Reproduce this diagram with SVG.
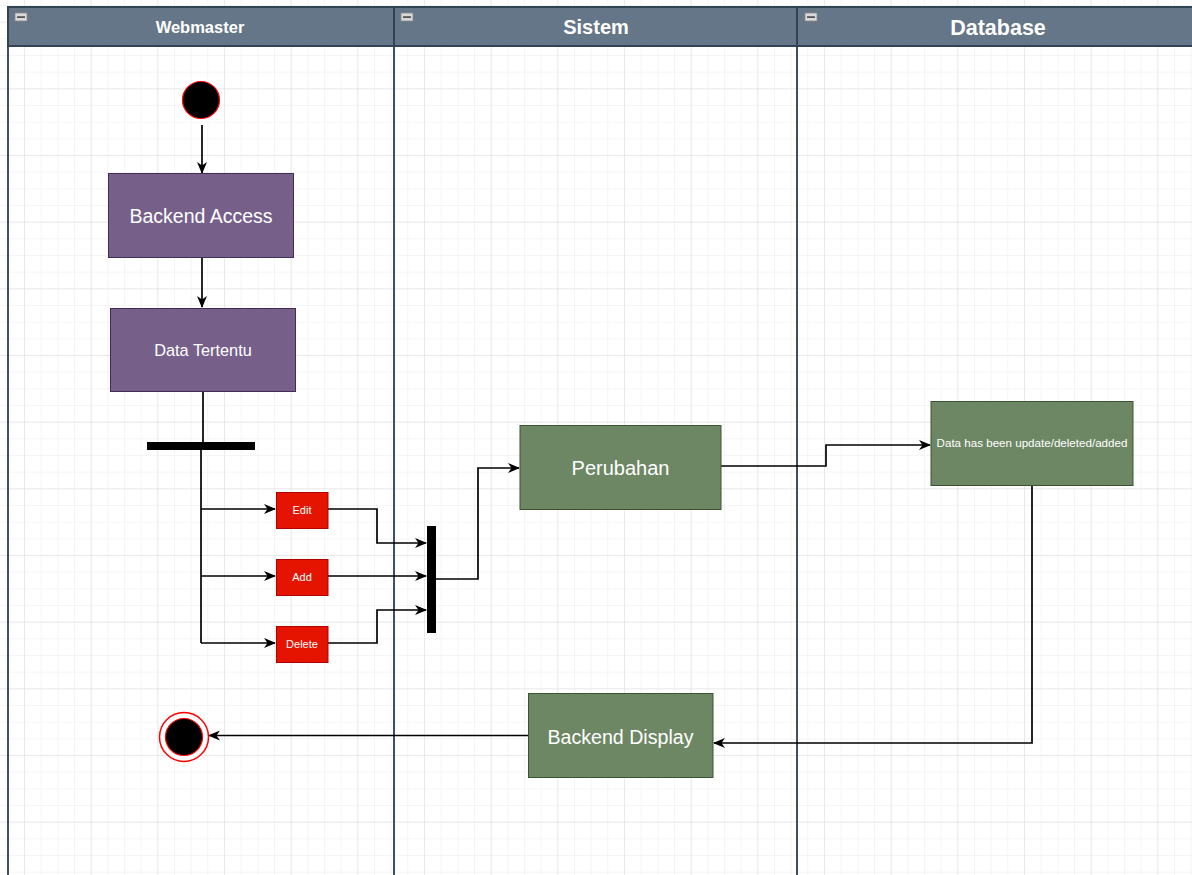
<svg xmlns="http://www.w3.org/2000/svg" width="1192" height="875" viewBox="0 0 1192 875">
<defs>
<pattern id="minor" x="24" y="21.67" width="16.667" height="16.667" patternUnits="userSpaceOnUse">
<path d="M0 0H16.667M0 0V16.667" fill="none" stroke="#ececec" stroke-width="1"/>
</pattern>
<pattern id="major" x="24" y="21.67" width="66.667" height="66.667" patternUnits="userSpaceOnUse">
<path d="M0 0H66.667M0 0V66.667" fill="none" stroke="#dedede" stroke-width="1"/>
</pattern>
<marker id="arr" viewBox="0 0 12 10" refX="11" refY="5" markerWidth="12" markerHeight="10" markerUnits="userSpaceOnUse" orient="auto">
<path d="M0 0L12 5L0 10L3.5 5Z" fill="#000"/>
</marker>
<g id="icon">
<rect x="0" y="0" width="12" height="8" fill="#d9d9d9" stroke="#8a8a8a" stroke-width="0.8"/>
<rect x="2" y="3.3" width="8" height="1.6" fill="#444"/>
</g>
</defs>
<style>
.hdr{fill:#647687;stroke:#314354;stroke-width:2}
.lane{fill:none;stroke:#3d4f62;stroke-width:2}
.ht{fill:#fff;font-family:"Liberation Sans",Arial,sans-serif;font-weight:bold;text-anchor:middle}
.purple{fill:#76608a;stroke:#432d57;stroke-width:1}
.green{fill:#6d8764;stroke:#3a5431;stroke-width:1}
.red{fill:#e51400;stroke:#b20000;stroke-width:1}
.lbl{fill:#fff;font-family:"Liberation Sans",Arial,sans-serif;text-anchor:middle;dominant-baseline:central}
.edge{fill:none;stroke:#000;stroke-width:1.7}
.edgem{fill:none;stroke:#000;stroke-width:1.7;marker-end:url(#arr)}
</style>
<rect width="1192" height="875" fill="#fff"/>
<rect width="1192" height="875" fill="url(#minor)"/>
<rect width="1192" height="875" fill="url(#major)"/>

<g id="lane-webmaster">
<rect class="lane" x="8" y="7" width="386" height="880"/>
<rect class="hdr" x="8" y="7" width="386" height="39"/>
<use href="#icon" x="15" y="13"/>
<text class="ht" x="200" y="33" font-size="16.5">Webmaster</text>
</g>
<g id="lane-sistem">
<rect class="lane" x="394" y="7" width="403" height="880"/>
<rect class="hdr" x="394" y="7" width="403" height="39"/>
<use href="#icon" x="401" y="13"/>
<text class="ht" x="596" y="34" font-size="20">Sistem</text>
</g>
<g id="lane-database">
<rect class="lane" x="797" y="7" width="420" height="880"/>
<rect class="hdr" x="797" y="7" width="420" height="39"/>
<use href="#icon" x="805" y="13"/>
<text class="ht" x="998" y="35" font-size="21.5">Database</text>
</g>

<g id="connectors">
<path class="edgem" d="M202 125V173"/>
<path class="edgem" d="M202 258V307"/>
<path class="edge" d="M203 392V443"/>
<path class="edge" d="M201 450V643"/>
<path class="edgem" d="M201 509H275"/>
<path class="edgem" d="M201 576H275"/>
<path class="edgem" d="M201 643H275"/>
<path class="edgem" d="M328 509H377V543H426"/>
<path class="edgem" d="M328 576H426"/>
<path class="edgem" d="M328 643H377V610H426"/>
<path class="edgem" d="M436 579H478V468H519"/>
<path class="edgem" d="M721 466H826V445H930"/>
<path class="edgem" d="M1032 485V743H714"/>
<path class="edgem" d="M528 735.5H209"/>
</g>

<g id="start">
<circle cx="201" cy="100" r="18.5" fill="#000" stroke="#ff0000" stroke-width="1.2"/>
</g>
<g id="backend-access">
<rect class="purple" x="108.5" y="173.5" width="185" height="84"/>
<text class="lbl" x="201" y="216" font-size="19.5">Backend Access</text>
</g>
<g id="data-tertentu">
<rect class="purple" x="110.5" y="308.5" width="185" height="83"/>
<text class="lbl" x="203" y="350" font-size="16.3">Data Tertentu</text>
</g>
<g id="fork">
<rect x="147" y="442" width="108" height="8" fill="#000"/>
</g>
<g id="edit">
<rect class="red" x="276.5" y="492.5" width="51.5" height="36"/>
<text class="lbl" x="302" y="510" font-size="11">Edit</text>
</g>
<g id="add">
<rect class="red" x="276.5" y="559.5" width="51.5" height="36"/>
<text class="lbl" x="302" y="577" font-size="11">Add</text>
</g>
<g id="delete">
<rect class="red" x="276.5" y="626.5" width="51.5" height="36"/>
<text class="lbl" x="302" y="644" font-size="11">Delete</text>
</g>
<g id="join">
<rect x="427" y="526" width="9" height="107" fill="#000"/>
</g>
<g id="perubahan">
<rect class="green" x="520" y="425.5" width="201" height="84"/>
<text class="lbl" x="620.5" y="468" font-size="20">Perubahan</text>
</g>
<g id="data-updated">
<rect class="green" x="931" y="401.5" width="202" height="84"/>
<text class="lbl" x="1032" y="442" font-size="11.6">Data has been update/deleted/added</text>
</g>
<g id="backend-display">
<rect class="green" x="528.5" y="693.5" width="184.5" height="84"/>
<text class="lbl" x="620.5" y="737" font-size="19.6">Backend Display</text>
</g>
<g id="end">
<circle cx="184" cy="737" r="24.5" fill="#fff" stroke="#ff0000" stroke-width="1.5"/>
<circle cx="184" cy="737" r="18.5" fill="#000" stroke="#ff0000" stroke-width="1.2"/>
</g>
</svg>
